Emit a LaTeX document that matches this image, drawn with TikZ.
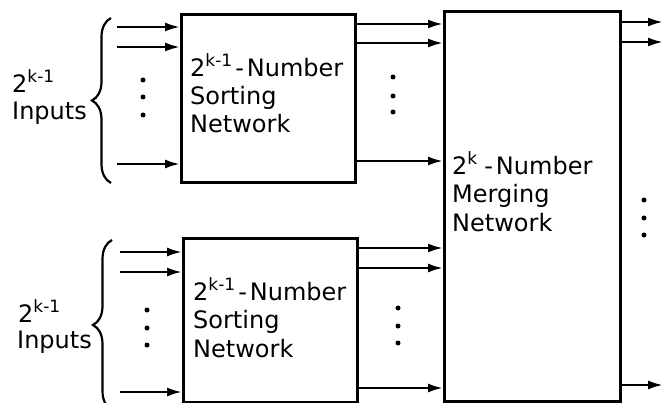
\documentclass[tikz,border=0pt]{standalone}
\usepackage{fontspec}
\setmainfont{DejaVu Sans}
\usetikzlibrary{arrows.meta,decorations.pathreplacing}
\newcommand{\supk}[1]{\raisebox{10pt}{\fontsize{17}{17}\selectfont #1}}
\begin{document}
\begin{tikzpicture}[x=1pt,y=-1pt,
  box/.style={draw, line width=3.2pt, inner sep=0pt, anchor=north west},
  arr/.style={line width=2.4pt, -{Latex[length=15pt,width=9pt]}},
  lbl/.style={anchor=base west, inner sep=0pt, font=\fontsize{24}{28}\selectfont},
  brc/.style={decorate, decoration={brace, amplitude=19pt, aspect=0.5}, line width=2.2pt},
  dot/.style={circle, fill, inner sep=0pt, minimum size=5pt}]
\useasboundingbox (0,0) rectangle (663,403);
% boxes
\node[box, minimum width=174pt, minimum height=168pt] (sortA) at (180,13) {};
\node[box, minimum width=174pt, minimum height=164pt] (sortB) at (182,237) {};
\node[box, minimum width=176pt, minimum height=390pt] (merge) at (443,10) {};
% box texts
\node[lbl] (tA1) at (190,77) {2\supk{k-1}\hspace{3pt}-\hspace{3pt}Number};
\node[lbl] (tA2) at (190,105) {Sorting};
\node[lbl] (tA3) at (190,133) {Network};
\node[lbl] (tB1) at (193,300) {2\supk{k-1}\hspace{3pt}-\hspace{3pt}Number};
\node[lbl] (tB2) at (193,328) {Sorting};
\node[lbl] (tB3) at (193,357) {Network};
\node[lbl] (tM1) at (452,175) {2\supk{k}\hspace{7pt}-\hspace{3pt}Number};
\node[lbl] (tM2) at (452,203) {Merging};
\node[lbl] (tM3) at (452,232) {Network};
% left labels
\node[lbl] (lA1) at (12,93) {2\supk{k-1}};
\node[lbl] (lA2) at (12,120) {Inputs};
\node[lbl] (lB1) at (18,322) {2\supk{k-1}};
\node[lbl] (lB2) at (17,348) {Inputs};
% braces
\coordinate (bAt) at (111,18); \coordinate (bAb) at (111,183);
\coordinate (bBt) at (112,240); \coordinate (bBb) at (112,410);
\draw[brc] (bAb) -- (bAt);
\draw[brc] (bBb) -- (bBt);
% input arrows top
\coordinate (ia1) at (117,27); \coordinate (ia2) at (117,47); \coordinate (ia3) at (117,164);
\foreach \c in {ia1,ia2,ia3} \draw[arr] (\c) -- (\c -| sortA.west);
% input arrows bottom
\coordinate (ib1) at (120,252); \coordinate (ib2) at (120,272); \coordinate (ib3) at (120,392);
\foreach \c in {ib1,ib2,ib3} \draw[arr] (\c) -- (\c -| sortB.west);
% sortA to merge
\coordinate (oa1) at (400,24); \coordinate (oa2) at (400,43); \coordinate (oa3) at (400,161);
\foreach \c in {oa1,oa2,oa3} \draw[arr] (\c -| sortA.east) -- (\c -| merge.west);
% sortB to merge
\coordinate (ob1) at (400,248); \coordinate (ob2) at (400,268); \coordinate (ob3) at (400,388);
\foreach \c in {ob1,ob2,ob3} \draw[arr] (\c -| sortB.east) -- (\c -| merge.west);
% merge outputs
\coordinate (om1) at (663,22); \coordinate (om2) at (663,42); \coordinate (om3) at (663,385);
\foreach \c in {om1,om2,om3} \draw[arr] (\c -| merge.east) -- (\c);
% dots
\foreach \x/\y in {143/80,143/97,143/115, 147/310,147/328,147/345,
                   393/77,393/96,393/112, 398/308,398/326,398/343,
                   644/200,644/218,644/235}
  \node[dot] at (\x,\y) {};
\end{tikzpicture}
\end{document}
